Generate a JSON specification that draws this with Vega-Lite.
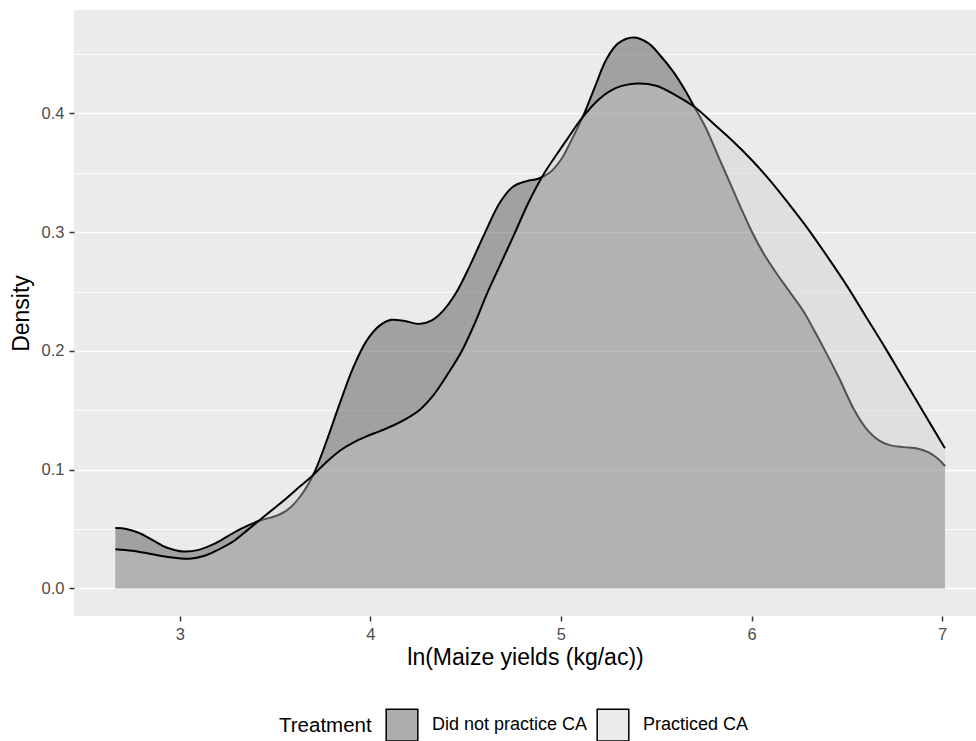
{
  "$schema": "https://vega.github.io/schema/vega-lite/v6.json",
  "width": 902,
  "height": 606,
  "autosize": {"type": "none"},
  "padding": {"left": 74, "top": 10, "right": 0, "bottom": 125},
  "background": "white",
  "config": {
    "view": {"fill": "#EBEBEB", "stroke": null},
    "font": "Liberation Sans",
    "axis": {
      "domain": false,
      "labelFont": "Liberation Sans",
      "titleFont": "Liberation Sans",
      "labelColor": "#4D4D4D",
      "labelFontSize": 16.5,
      "titleFontSize": 23,
      "titleFontWeight": "normal",
      "titleColor": "black",
      "tickColor": "#333333",
      "tickWidth": 1.5,
      "tickSize": 5,
      "labelPadding": 5,
      "gridColor": "white"
    }
  },
  "data": {
    "values": [
      {"Treatment": "Did not practice CA", "x": 2.662, "y": 0.0508},
      {"Treatment": "Did not practice CA", "x": 2.72, "y": 0.0500},
      {"Treatment": "Did not practice CA", "x": 2.79, "y": 0.0465},
      {"Treatment": "Did not practice CA", "x": 2.86, "y": 0.0405},
      {"Treatment": "Did not practice CA", "x": 2.93, "y": 0.0345},
      {"Treatment": "Did not practice CA", "x": 3.02, "y": 0.0311},
      {"Treatment": "Did not practice CA", "x": 3.10, "y": 0.0325},
      {"Treatment": "Did not practice CA", "x": 3.18, "y": 0.0375},
      {"Treatment": "Did not practice CA", "x": 3.25, "y": 0.0438},
      {"Treatment": "Did not practice CA", "x": 3.32, "y": 0.0502},
      {"Treatment": "Did not practice CA", "x": 3.42, "y": 0.0572},
      {"Treatment": "Did not practice CA", "x": 3.50, "y": 0.0608},
      {"Treatment": "Did not practice CA", "x": 3.56, "y": 0.0655},
      {"Treatment": "Did not practice CA", "x": 3.63, "y": 0.0770},
      {"Treatment": "Did not practice CA", "x": 3.70, "y": 0.0955},
      {"Treatment": "Did not practice CA", "x": 3.77, "y": 0.1240},
      {"Treatment": "Did not practice CA", "x": 3.84, "y": 0.1560},
      {"Treatment": "Did not practice CA", "x": 3.91, "y": 0.1860},
      {"Treatment": "Did not practice CA", "x": 3.98, "y": 0.2085},
      {"Treatment": "Did not practice CA", "x": 4.05, "y": 0.2215},
      {"Treatment": "Did not practice CA", "x": 4.11, "y": 0.2262},
      {"Treatment": "Did not practice CA", "x": 4.18, "y": 0.2252},
      {"Treatment": "Did not practice CA", "x": 4.26, "y": 0.2228},
      {"Treatment": "Did not practice CA", "x": 4.32, "y": 0.2255},
      {"Treatment": "Did not practice CA", "x": 4.38, "y": 0.2335},
      {"Treatment": "Did not practice CA", "x": 4.45, "y": 0.2490},
      {"Treatment": "Did not practice CA", "x": 4.52, "y": 0.2710},
      {"Treatment": "Did not practice CA", "x": 4.60, "y": 0.2990},
      {"Treatment": "Did not practice CA", "x": 4.68, "y": 0.3250},
      {"Treatment": "Did not practice CA", "x": 4.75, "y": 0.3385},
      {"Treatment": "Did not practice CA", "x": 4.82, "y": 0.3430},
      {"Treatment": "Did not practice CA", "x": 4.88, "y": 0.3450},
      {"Treatment": "Did not practice CA", "x": 4.94, "y": 0.3500},
      {"Treatment": "Did not practice CA", "x": 5.00, "y": 0.3610},
      {"Treatment": "Did not practice CA", "x": 5.06, "y": 0.3790},
      {"Treatment": "Did not practice CA", "x": 5.12, "y": 0.3990},
      {"Treatment": "Did not practice CA", "x": 5.18, "y": 0.4230},
      {"Treatment": "Did not practice CA", "x": 5.24, "y": 0.4460},
      {"Treatment": "Did not practice CA", "x": 5.30, "y": 0.4590},
      {"Treatment": "Did not practice CA", "x": 5.38, "y": 0.4639},
      {"Treatment": "Did not practice CA", "x": 5.46, "y": 0.4590},
      {"Treatment": "Did not practice CA", "x": 5.52, "y": 0.4490},
      {"Treatment": "Did not practice CA", "x": 5.59, "y": 0.4350},
      {"Treatment": "Did not practice CA", "x": 5.65, "y": 0.4200},
      {"Treatment": "Did not practice CA", "x": 5.70, "y": 0.4056},
      {"Treatment": "Did not practice CA", "x": 5.76, "y": 0.3880},
      {"Treatment": "Did not practice CA", "x": 5.82, "y": 0.3660},
      {"Treatment": "Did not practice CA", "x": 5.88, "y": 0.3440},
      {"Treatment": "Did not practice CA", "x": 5.94, "y": 0.3220},
      {"Treatment": "Did not practice CA", "x": 6.00, "y": 0.3010},
      {"Treatment": "Did not practice CA", "x": 6.06, "y": 0.2830},
      {"Treatment": "Did not practice CA", "x": 6.12, "y": 0.2680},
      {"Treatment": "Did not practice CA", "x": 6.19, "y": 0.2520},
      {"Treatment": "Did not practice CA", "x": 6.27, "y": 0.2340},
      {"Treatment": "Did not practice CA", "x": 6.33, "y": 0.2170},
      {"Treatment": "Did not practice CA", "x": 6.39, "y": 0.1990},
      {"Treatment": "Did not practice CA", "x": 6.46, "y": 0.1770},
      {"Treatment": "Did not practice CA", "x": 6.54, "y": 0.1500},
      {"Treatment": "Did not practice CA", "x": 6.60, "y": 0.1350},
      {"Treatment": "Did not practice CA", "x": 6.67, "y": 0.1245},
      {"Treatment": "Did not practice CA", "x": 6.73, "y": 0.1205},
      {"Treatment": "Did not practice CA", "x": 6.80, "y": 0.1190},
      {"Treatment": "Did not practice CA", "x": 6.87, "y": 0.1178},
      {"Treatment": "Did not practice CA", "x": 6.93, "y": 0.1145},
      {"Treatment": "Did not practice CA", "x": 6.98, "y": 0.1090},
      {"Treatment": "Did not practice CA", "x": 7.015, "y": 0.1031},
      {"Treatment": "Practiced CA", "x": 2.662, "y": 0.0331},
      {"Treatment": "Practiced CA", "x": 2.75, "y": 0.0318},
      {"Treatment": "Practiced CA", "x": 2.85, "y": 0.0290},
      {"Treatment": "Practiced CA", "x": 2.95, "y": 0.0262},
      {"Treatment": "Practiced CA", "x": 3.05, "y": 0.0250},
      {"Treatment": "Practiced CA", "x": 3.13, "y": 0.0275},
      {"Treatment": "Practiced CA", "x": 3.20, "y": 0.0325},
      {"Treatment": "Practiced CA", "x": 3.28, "y": 0.0395},
      {"Treatment": "Practiced CA", "x": 3.35, "y": 0.0485},
      {"Treatment": "Practiced CA", "x": 3.42, "y": 0.0577},
      {"Treatment": "Practiced CA", "x": 3.49, "y": 0.0668},
      {"Treatment": "Practiced CA", "x": 3.56, "y": 0.0760},
      {"Treatment": "Practiced CA", "x": 3.63, "y": 0.0858},
      {"Treatment": "Practiced CA", "x": 3.70, "y": 0.0955},
      {"Treatment": "Practiced CA", "x": 3.77, "y": 0.1065},
      {"Treatment": "Practiced CA", "x": 3.84, "y": 0.1160},
      {"Treatment": "Practiced CA", "x": 3.91, "y": 0.1228},
      {"Treatment": "Practiced CA", "x": 3.98, "y": 0.1280},
      {"Treatment": "Practiced CA", "x": 4.05, "y": 0.1325},
      {"Treatment": "Practiced CA", "x": 4.12, "y": 0.1372},
      {"Treatment": "Practiced CA", "x": 4.19, "y": 0.1430},
      {"Treatment": "Practiced CA", "x": 4.26, "y": 0.1505},
      {"Treatment": "Practiced CA", "x": 4.33, "y": 0.1625},
      {"Treatment": "Practiced CA", "x": 4.40, "y": 0.1790},
      {"Treatment": "Practiced CA", "x": 4.48, "y": 0.2000},
      {"Treatment": "Practiced CA", "x": 4.55, "y": 0.2240},
      {"Treatment": "Practiced CA", "x": 4.61, "y": 0.2475},
      {"Treatment": "Practiced CA", "x": 4.68, "y": 0.2720},
      {"Treatment": "Practiced CA", "x": 4.76, "y": 0.3000},
      {"Treatment": "Practiced CA", "x": 4.83, "y": 0.3250},
      {"Treatment": "Practiced CA", "x": 4.91, "y": 0.3490},
      {"Treatment": "Practiced CA", "x": 4.98, "y": 0.3660},
      {"Treatment": "Practiced CA", "x": 5.04, "y": 0.3800},
      {"Treatment": "Practiced CA", "x": 5.11, "y": 0.3960},
      {"Treatment": "Practiced CA", "x": 5.20, "y": 0.4120},
      {"Treatment": "Practiced CA", "x": 5.29, "y": 0.4215},
      {"Treatment": "Practiced CA", "x": 5.40, "y": 0.4252},
      {"Treatment": "Practiced CA", "x": 5.50, "y": 0.4233},
      {"Treatment": "Practiced CA", "x": 5.60, "y": 0.4155},
      {"Treatment": "Practiced CA", "x": 5.70, "y": 0.4056},
      {"Treatment": "Practiced CA", "x": 5.80, "y": 0.3915},
      {"Treatment": "Practiced CA", "x": 5.90, "y": 0.3770},
      {"Treatment": "Practiced CA", "x": 6.00, "y": 0.3610},
      {"Treatment": "Practiced CA", "x": 6.10, "y": 0.3430},
      {"Treatment": "Practiced CA", "x": 6.20, "y": 0.3230},
      {"Treatment": "Practiced CA", "x": 6.30, "y": 0.3020},
      {"Treatment": "Practiced CA", "x": 6.40, "y": 0.2790},
      {"Treatment": "Practiced CA", "x": 6.50, "y": 0.2550},
      {"Treatment": "Practiced CA", "x": 6.60, "y": 0.2290},
      {"Treatment": "Practiced CA", "x": 6.70, "y": 0.2030},
      {"Treatment": "Practiced CA", "x": 6.80, "y": 0.1760},
      {"Treatment": "Practiced CA", "x": 6.90, "y": 0.1490},
      {"Treatment": "Practiced CA", "x": 7.015, "y": 0.1180}
    ]
  },
  "encoding": {
    "x": {
      "field": "x",
      "type": "quantitative",
      "title": "ln(Maize yields (kg/ac))",
      "scale": {"domain": [2.445, 7.178], "nice": false, "zero": false},
      "axis": {"values": [3, 4, 5, 6, 7], "grid": false, "titlePadding": 4}
    },
    "y": {
      "field": "y",
      "type": "quantitative",
      "title": "Density",
      "stack": null,
      "scale": {"domain": [-0.0232, 0.4871], "nice": false, "zero": false},
      "axis": {
        "values": [0, 0.05, 0.1, 0.15, 0.2, 0.25, 0.3, 0.35, 0.4, 0.45],
        "labelExpr": "round(datum.value*100) % 10 == 0 ? format(datum.value, '.1f') : ''",
        "grid": true,
        "gridWidth": {"condition": {"test": "round(datum.value*100) % 10 != 0", "value": 0.8}, "value": 1.6},
        "tickOpacity": {"condition": {"test": "round(datum.value*100) % 10 != 0", "value": 0}, "value": 1},
        "titlePadding": 8
      }
    }
  },
  "layer": [
    {
      "transform": [{"filter": "datum.Treatment == 'Did not practice CA'"}],
      "mark": {"type": "area", "interpolate": "catmull-rom", "fillOpacity": 0.4},
      "encoding": {
        "color": {
          "field": "Treatment",
          "type": "nominal",
          "scale": {"domain": ["Did not practice CA", "Practiced CA"], "range": ["#333333", "#CCCCCC"]},
          "legend": {
            "orient": "none",
            "legendX": 205,
            "legendY": 698,
            "direction": "horizontal",
            "title": "Treatment",
            "titleOrient": "left",
            "titleFontSize": 20.5,
            "titleFontWeight": "normal",
            "titleColor": "black",
            "titleFont": "Liberation Sans",
            "titlePadding": 13,
            "labelFontSize": 18,
            "labelColor": "black",
            "labelFont": "Liberation Sans",
            "labelOffset": 13,
            "columnPadding": 6,
            "symbolType": "square",
            "symbolSize": 1000,
            "symbolStrokeColor": "black",
            "symbolStrokeWidth": 1.5,
            "encode": {"symbols": {"update": {"fillOpacity": {"value": 0.4}, "stroke": {"value": "black"}, "strokeWidth": {"value": 1.5}}}}
          }
        }
      }
    },
    {
      "transform": [{"filter": "datum.Treatment == 'Did not practice CA'"}],
      "mark": {"type": "line", "interpolate": "catmull-rom", "color": "black", "strokeWidth": 2}
    },
    {
      "transform": [{"filter": "datum.Treatment == 'Practiced CA'"}],
      "mark": {"type": "area", "interpolate": "catmull-rom", "fillOpacity": 0.4},
      "encoding": {
        "color": {"field": "Treatment", "type": "nominal"}
      }
    },
    {
      "transform": [{"filter": "datum.Treatment == 'Practiced CA'"}],
      "mark": {"type": "line", "interpolate": "catmull-rom", "color": "black", "strokeWidth": 2}
    }
  ]
}
